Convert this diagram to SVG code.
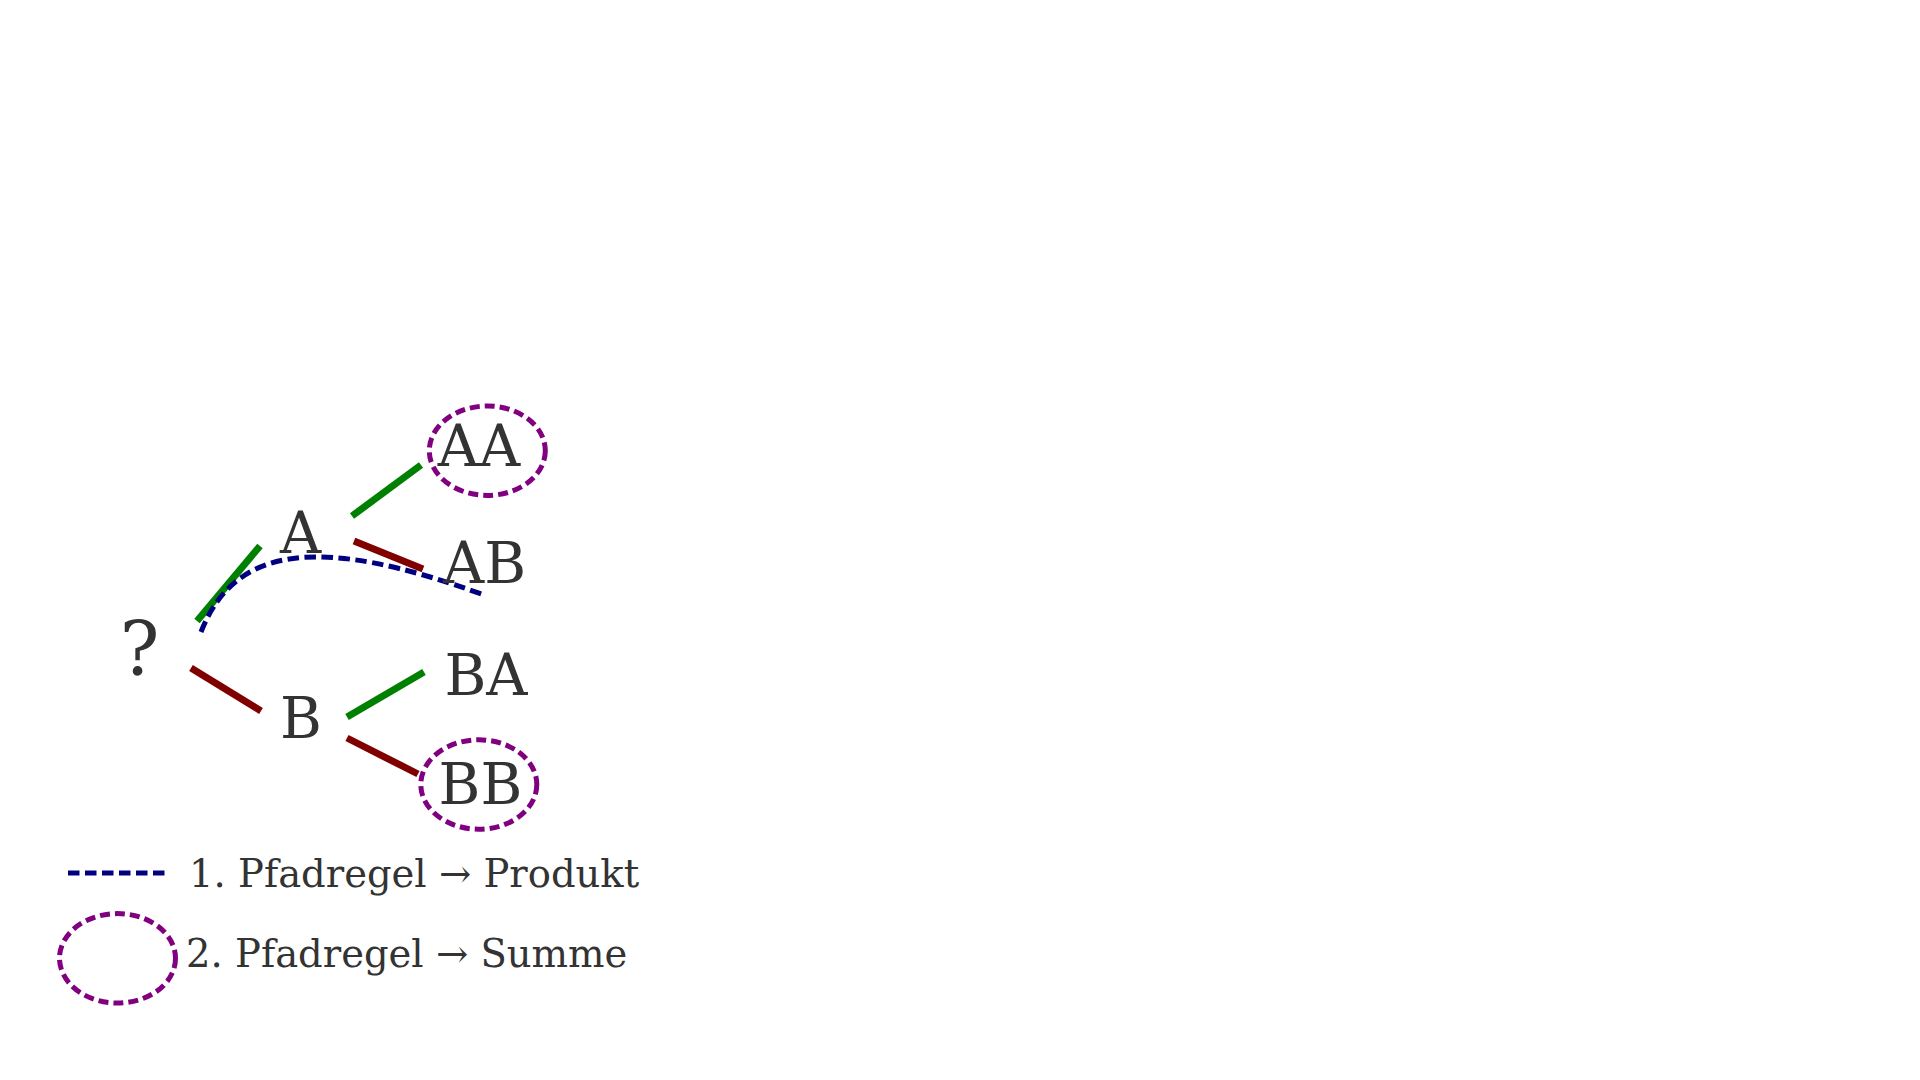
<svg xmlns="http://www.w3.org/2000/svg" width="1920" height="1080" viewBox="0 0 1920 1080">
<style>
.t{font-family:"DejaVu Serif","Liberation Serif",serif;fill:#333333}
.big{font-size:57px;text-anchor:middle}
.leg{font-size:38.5px}
.g{stroke:#008000;stroke-width:7;fill:none}
.r{stroke:#800000;stroke-width:7;fill:none}
.path{stroke:#000080;stroke-width:5;fill:none;stroke-dasharray:11.5 5.5}
.sum{stroke:#800080;stroke-width:5;fill:none;stroke-dasharray:10 5}
</style>
<rect width="1920" height="1080" fill="#ffffff"/>
<g id="connectors">
<line class="g" x1="197" y1="621" x2="260" y2="546"/>
<line class="r" x1="191" y1="668" x2="261" y2="711"/>
<line class="g" x1="352" y1="516" x2="421" y2="465"/>
<line class="r" x1="354" y1="541" x2="423" y2="569"/>
<line class="g" x1="347" y1="717" x2="424" y2="672"/>
<line class="r" x1="347" y1="738" x2="418" y2="774"/>
<path class="path" d="M201,632 C235,545 320,535 484,595"/>
</g>
<g id="node-root"><text class="t big" x="139.5" y="675" style="font-size:74px">?</text></g>
<g id="node-A"><text class="t big" x="300.5" y="553">A</text></g>
<g id="node-B"><text class="t big" x="301" y="738">B</text></g>
<g id="node-AA"><ellipse class="sum" cx="487.3" cy="450.7" rx="58" ry="44.7"/><text class="t big" x="479" y="466">AA</text></g>
<g id="node-AB"><text class="t big" x="484.5" y="583">AB</text></g>
<g id="node-BA"><text class="t big" x="486" y="695">BA</text></g>
<g id="node-BB"><ellipse class="sum" cx="478.8" cy="784.5" rx="58" ry="44.7"/><text class="t big" x="480.5" y="804">BB</text></g>
<g id="legend">
<line class="path" x1="68" y1="873" x2="165" y2="873"/>
<text class="t leg" x="189" y="887">1. Pfadregel → Produkt</text>
<ellipse class="sum" cx="117.5" cy="958.3" rx="58" ry="44.7"/>
<text class="t leg" x="186" y="967">2. Pfadregel → Summe</text>
</g>
</svg>
